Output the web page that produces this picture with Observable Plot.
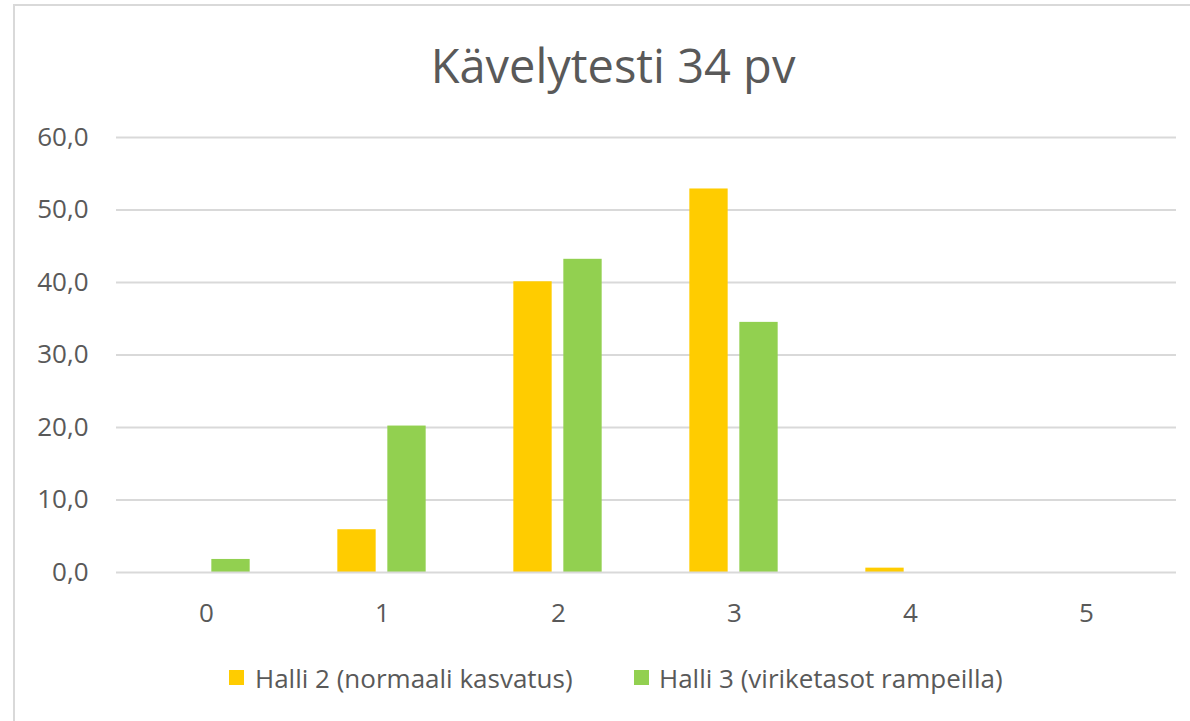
<!DOCTYPE html>
<html>
<head>
<meta charset="utf-8">
<script src="https://cdn.jsdelivr.net/npm/d3@7"></script>
<script src="https://cdn.jsdelivr.net/npm/@observablehq/plot@0.6"></script>
<style>
  html, body { margin: 0; padding: 0; background: #fff; }
  #wrap { position: relative; width: 1190px; height: 721px; overflow: hidden; background: #fff; font-family: "Open Sans", sans-serif; color: #595959; }
  #frame { position: absolute; left: 13px; top: 4px; width: 1200px; height: 740px; border-left: 2px solid #d9d9d9; border-top: 2px solid #d9d9d9; box-sizing: border-box; }
  #title { position: absolute; left: 0; width: 1226px; top: 42px; text-align: center; font-size: 47px; line-height: 1; white-space: nowrap; }
  #chart { position: absolute; left: 0; top: 100px; }
  .leg { position: absolute; top: 665px; font-size: 26px; line-height: 1; white-space: nowrap; }
  .sw { position: absolute; top: 670px; width: 15px; height: 15px; }
</style>
</head>
<body>
<div id="wrap">
  <div id="frame"></div>
  <div id="title">Kävelytesti 34 pv</div>
  <div id="chart"></div>
  <div id="legend"></div>
</div>
<script>
const categories = ["0", "1", "2", "3", "4", "5"];
const halli2 = [0, 5.9, 40.1, 52.9, 0.6, 0];
const halli3 = [1.8, 20.2, 43.2, 34.5, 0, 0];
const seriesNames = ["Halli 2 (normaali kasvatus)", "Halli 3 (viriketasot rampeilla)"];
const seriesColors = ["#FFCC00", "#92D050"];
const yTicks = [0, 10, 20, 30, 40, 50, 60];

const rows2 = categories.map((c, i) => ({cat: c, value: halli2[i], series: seriesNames[0]}));
const rows3 = categories.map((c, i) => ({cat: c, value: halli3[i], series: seriesNames[1]}));

const W = 1190, H = 560, mL = 116, mR = 14;
const step = (W - mL - mR) / categories.length;
const half = step / 2;

const chart = Plot.plot({
  width: W,
  height: H,
  marginTop: 37,
  marginBottom: 88,
  marginLeft: mL,
  marginRight: mR,
  style: {fontFamily: "Open Sans, sans-serif", fontSize: "26px", color: "#595959", background: "transparent", overflow: "visible"},
  x: {domain: categories, padding: 0, label: null, tickSize: 0, tickPadding: 31},
  y: {domain: [0, 60], ticks: yTicks, tickFormat: d => d.toFixed(1).replace(".", ","), label: null, tickSize: 0, tickPadding: 28},
  color: {domain: seriesNames, range: seriesColors},
  marks: [
    Plot.ruleY(yTicks.filter(d => d > 0), {stroke: "#d9d9d9", strokeWidth: 2}),
    Plot.barY(rows2, {x: "cat", y: "value", fill: "series", insetLeft: half - 45, insetRight: half + 6}),
    Plot.barY(rows3, {x: "cat", y: "value", fill: "series", insetLeft: half + 5, insetRight: half - 44}),
    Plot.ruleY([0], {stroke: "#d9d9d9", strokeWidth: 2})
  ]
});
document.getElementById("chart").appendChild(chart);

const legend = document.getElementById("legend");
const legX = [[229, 255], [634, 659]];
seriesNames.forEach((name, i) => {
  const sw = document.createElement("div");
  sw.className = "sw";
  sw.style.left = legX[i][0] + "px";
  sw.style.background = seriesColors[i];
  legend.appendChild(sw);
  const t = document.createElement("div");
  t.className = "leg";
  t.style.left = legX[i][1] + "px";
  t.textContent = name;
  legend.appendChild(t);
});
</script>
</body>
</html>
